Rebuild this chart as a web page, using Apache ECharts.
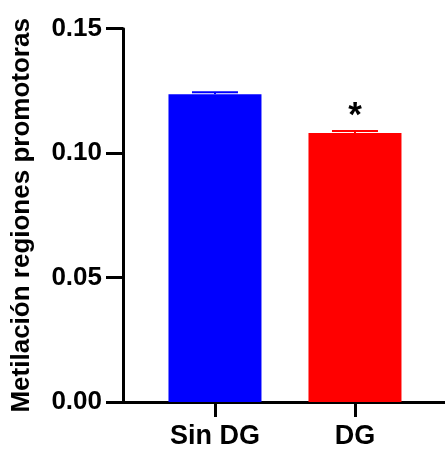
<!DOCTYPE html>
<html><head><meta charset="utf-8">
<script src="https://cdn.jsdelivr.net/npm/echarts@6/dist/echarts.min.js"></script>
<style>html,body{margin:0;padding:0;background:#fff}#c{width:445px;height:450px}</style>
</head><body><div id="c"></div>
<script>
const categories = ['Sin DG', 'DG'];
const means = [0.1237, 0.1081];
const errors = [0.0008, 0.0008];
const colors = ['#0000FF', '#FF0000'];
const significance = ['', '*'];
const yTicks = [0, 0.05, 0.10, 0.15];
const yTitle = 'Metilación regiones promotoras';

const FONT = '"Liberation Sans", Arial, sans-serif';
const chart = echarts.init(document.getElementById('c'), null, {renderer: 'canvas'});

const barData = means.map((m, i) => ({
  value: [i, m],
  itemStyle: {color: colors[i]},
  label: {
    show: significance[i] !== '',
    formatter: significance[i],
    position: 'top',
    distance: -1,
    fontSize: 35,
    fontWeight: 'bold',
    fontFamily: FONT,
    color: '#000'
  }
}));

chart.setOption({
  animation: false,
  grid: {left: 123, right: 0, top: 28.7, bottom: 47.2},
  xAxis: {
    type: 'value',
    min: -0.657,
    max: 1.643,
    splitLine: {show: false},
    axisLine: {show: true, onZero: true, lineStyle: {color: '#000', width: 3}},
    axisTick: {show: true, length: 15, lineStyle: {color: '#000', width: 3}, customValues: [0, 1]},
    axisLabel: {
      customValues: [0, 1],
      formatter: v => categories[Math.round(v)] || '',
      color: '#000', fontSize: 27, fontWeight: 'bold', fontFamily: FONT, margin: 21
    }
  },
  yAxis: {
    type: 'value',
    min: yTicks[0], max: yTicks[yTicks.length - 1], interval: 0.05,
    splitLine: {show: false},
    axisLine: {show: true, onZero: false, lineStyle: {color: '#000', width: 3}},
    axisTick: {show: true, length: 17, lineStyle: {color: '#000', width: 3}},
    axisLabel: {
      formatter: v => v.toFixed(2),
      color: '#000', fontSize: 26, fontWeight: 'bold', fontFamily: FONT, margin: 21
    },
    name: yTitle,
    nameLocation: 'middle',
    nameGap: 88,
    nameTextStyle: {color: '#000', fontSize: 26, fontWeight: 'bold', fontFamily: FONT}
  },
  series: [
    {
      type: 'bar',
      barWidth: 93,
      data: barData
    },
    {
      type: 'custom',
      data: means.map((m, i) => [i, m, errors[i]]),
      renderItem: function (params, api) {
        const i = api.value(0);
        const m = api.value(1);
        const e = api.value(2);
        const top = api.coord([i, m + e]);
        const base = api.coord([i, m]);
        const capHalf = 23;
        const col = colors[i];
        return {
          type: 'group',
          children: [
            {type: 'line', shape: {x1: top[0], y1: base[1], x2: top[0], y2: top[1]}, style: {stroke: col, lineWidth: 2}},
            {type: 'line', shape: {x1: top[0] - capHalf, y1: top[1], x2: top[0] + capHalf, y2: top[1]}, style: {stroke: col, lineWidth: 2}}
          ]
        };
      },
      z: 3
    }
  ]
});
</script></body></html>
